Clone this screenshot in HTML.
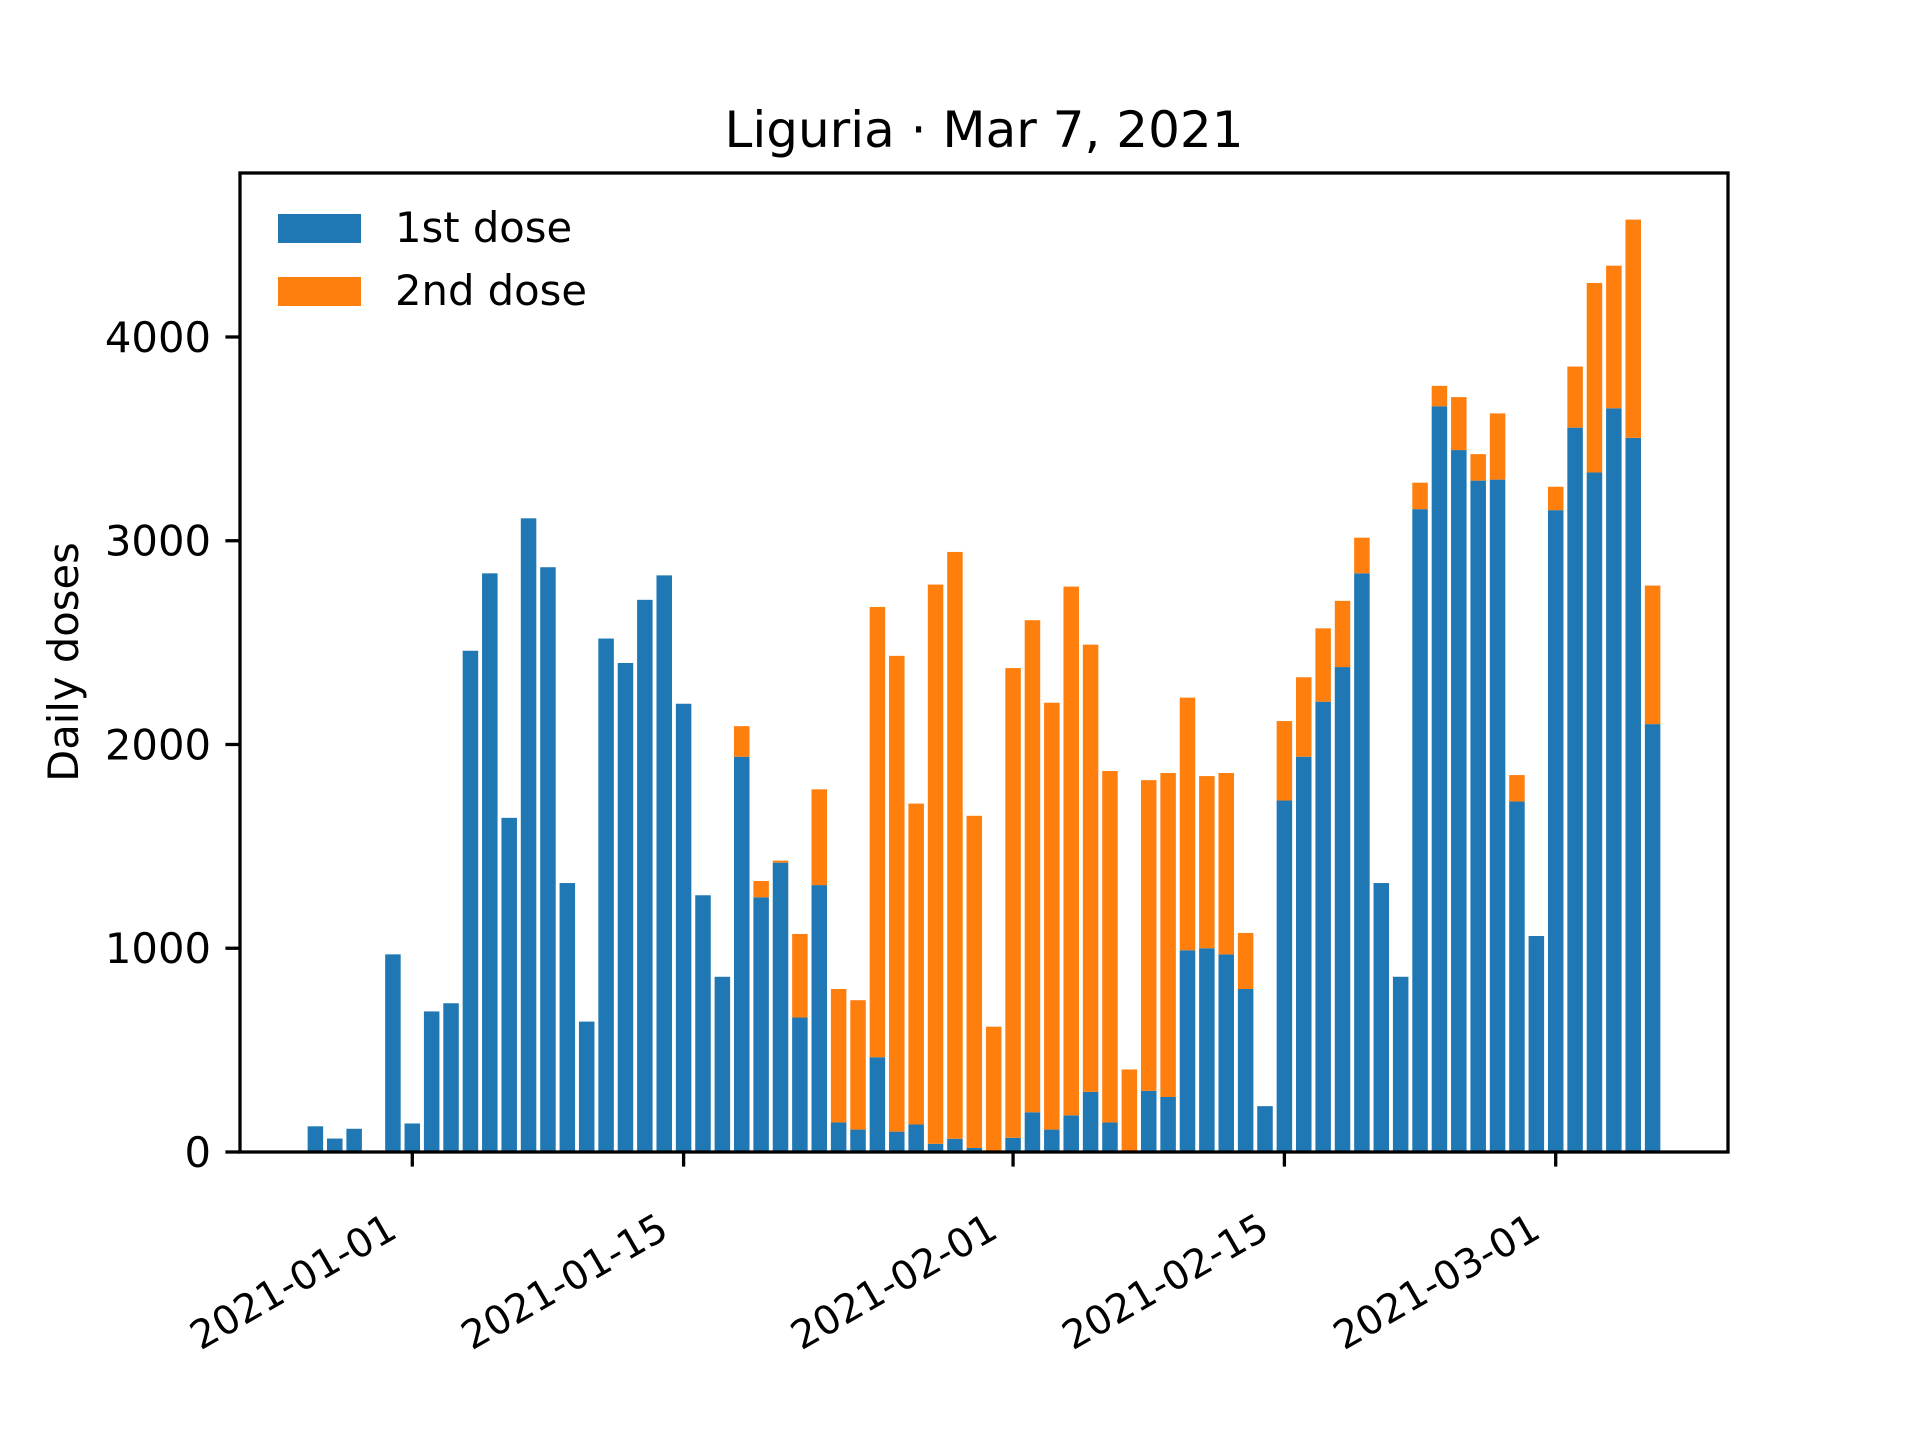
<!DOCTYPE html>
<html><head><meta charset="utf-8"><style>
html,body{margin:0;padding:0;background:#fff}
svg{display:block;font-family:"DejaVu Sans","Liberation Sans",sans-serif}
</style></head><body>
<svg id="chart" width="1920" height="1440" viewBox="0 0 1920 1440" xmlns="http://www.w3.org/2000/svg">
<rect width="1920" height="1440" fill="#fff"/>
<text x="984" y="147" font-size="50" text-anchor="middle">Liguria · Mar 7, 2021</text>
<g id="bars"></g>
<g id="axes"></g>
<rect x="240" y="173" width="1488" height="979" fill="none" stroke="#000" stroke-width="3.3"/>
<text x="0" y="0" font-size="41.7" text-anchor="middle" transform="translate(78,662) rotate(-90)">Daily doses</text>
<g>
<rect x="278" y="214" width="83" height="29" fill="#1f77b4"/>
<text x="395" y="242" font-size="41.7">1st dose</text>
<rect x="278" y="277" width="83" height="29" fill="#ff7f0e"/>
<text x="395" y="305" font-size="41.7">2nd dose</text>
</g>
</svg>
<script>
// days offset from 2021-01-01, from -5 (Dec 27) to 64 (Mar 6)
const startDay = -5;
const firstDose = [126,66,114,5,970,140,690,730,2460,2840,1640,3110,2870,1320,640,2520,2400,2710,2830,2200,1260,860,1940,1250,1420,660,1310,145,110,465,100,135,40,65,20,0,70,195,110,180,295,145,0,300,270,990,1000,970,800,225,1725,1940,2210,2380,2840,1320,860,3155,3660,3445,3295,3300,1720,1060,3150,3555,3335,3650,3505,2100];
const totalDoses = [126,66,114,5,970,140,690,730,2460,2840,1640,3110,2870,1320,640,2520,2400,2710,2830,2200,1260,860,2090,1330,1430,1070,1780,800,745,2675,2435,1710,2785,2945,1650,615,2375,2610,2205,2775,2490,1870,405,1825,1860,2230,1845,1860,1075,225,2115,2330,2570,2705,3015,1320,860,3285,3760,3705,3425,3625,1850,1060,3265,3855,4265,4350,4576,2780];
const secondDose = totalDoses.map((t,i)=>Math.max(0,t-firstDose[i]));
const yTicks = [0,1000,2000,3000,4000];
const xTickDays = [0,14,31,45,59];
const xTickLabels = ["2021-01-01","2021-01-15","2021-02-01","2021-02-15","2021-03-01"];

const NS="http://www.w3.org/2000/svg";
const L=240,R=1728,T=173,B=1152;
const n=firstDose.length;
const maxTot=Math.max(...firstDose.map((f,i)=>f+secondDose[i]));
const ymax=maxTot*1.05;
const x0=startDay-0.4, x1=startDay+n-1+0.4, m=(x1-x0)*0.05;
const xmin=x0-m, xmax=x1+m;
const xs=d=>L+(d-xmin)/(xmax-xmin)*(R-L);
const ys=v=>B-v/ymax*(B-T);
const bars=document.getElementById('bars'), axes=document.getElementById('axes');
function mk(tag,attrs,parent){const e=document.createElementNS(NS,tag);for(const k in attrs)e.setAttribute(k,attrs[k]);parent.appendChild(e);return e;}
for(let i=0;i<n;i++){
  const d=startDay+i, w=xs(d+0.4)-xs(d-0.4);
  const r1=mk('rect',{x:xs(d-0.4),y:ys(firstDose[i]),width:w,height:B-ys(firstDose[i]),fill:'#1f77b4'},bars);
  
  
  const r2=mk('rect',{x:xs(d-0.4),y:ys(firstDose[i]+secondDose[i]),width:w,height:ys(firstDose[i])-ys(firstDose[i]+secondDose[i]),fill:'#ff7f0e'},bars);
  
  
}
yTicks.forEach(v=>{
  const y=ys(v);
  const t=mk('line',{x1:L-14.6,x2:L,y1:y,y2:y,stroke:'#000','stroke-width':3.3},axes);
  
  
  const tx=mk('text',{x:L-29,y:y+15,'font-size':41.7,'text-anchor':'end'},axes);
  tx.textContent=v;
  
  
});
xTickDays.forEach((d,i)=>{
  const x=xs(d);
  const t=mk('line',{x1:x,x2:x,y1:B,y2:B+14.6,stroke:'#000','stroke-width':3.3},axes);
  
  
  const tx=mk('text',{x:0,y:0,'font-size':39.5,'text-anchor':'end',transform:`translate(${x-13},1236) rotate(-30)`},axes);
  tx.textContent=xTickLabels[i];
  
  
});
</script>
</body></html>
